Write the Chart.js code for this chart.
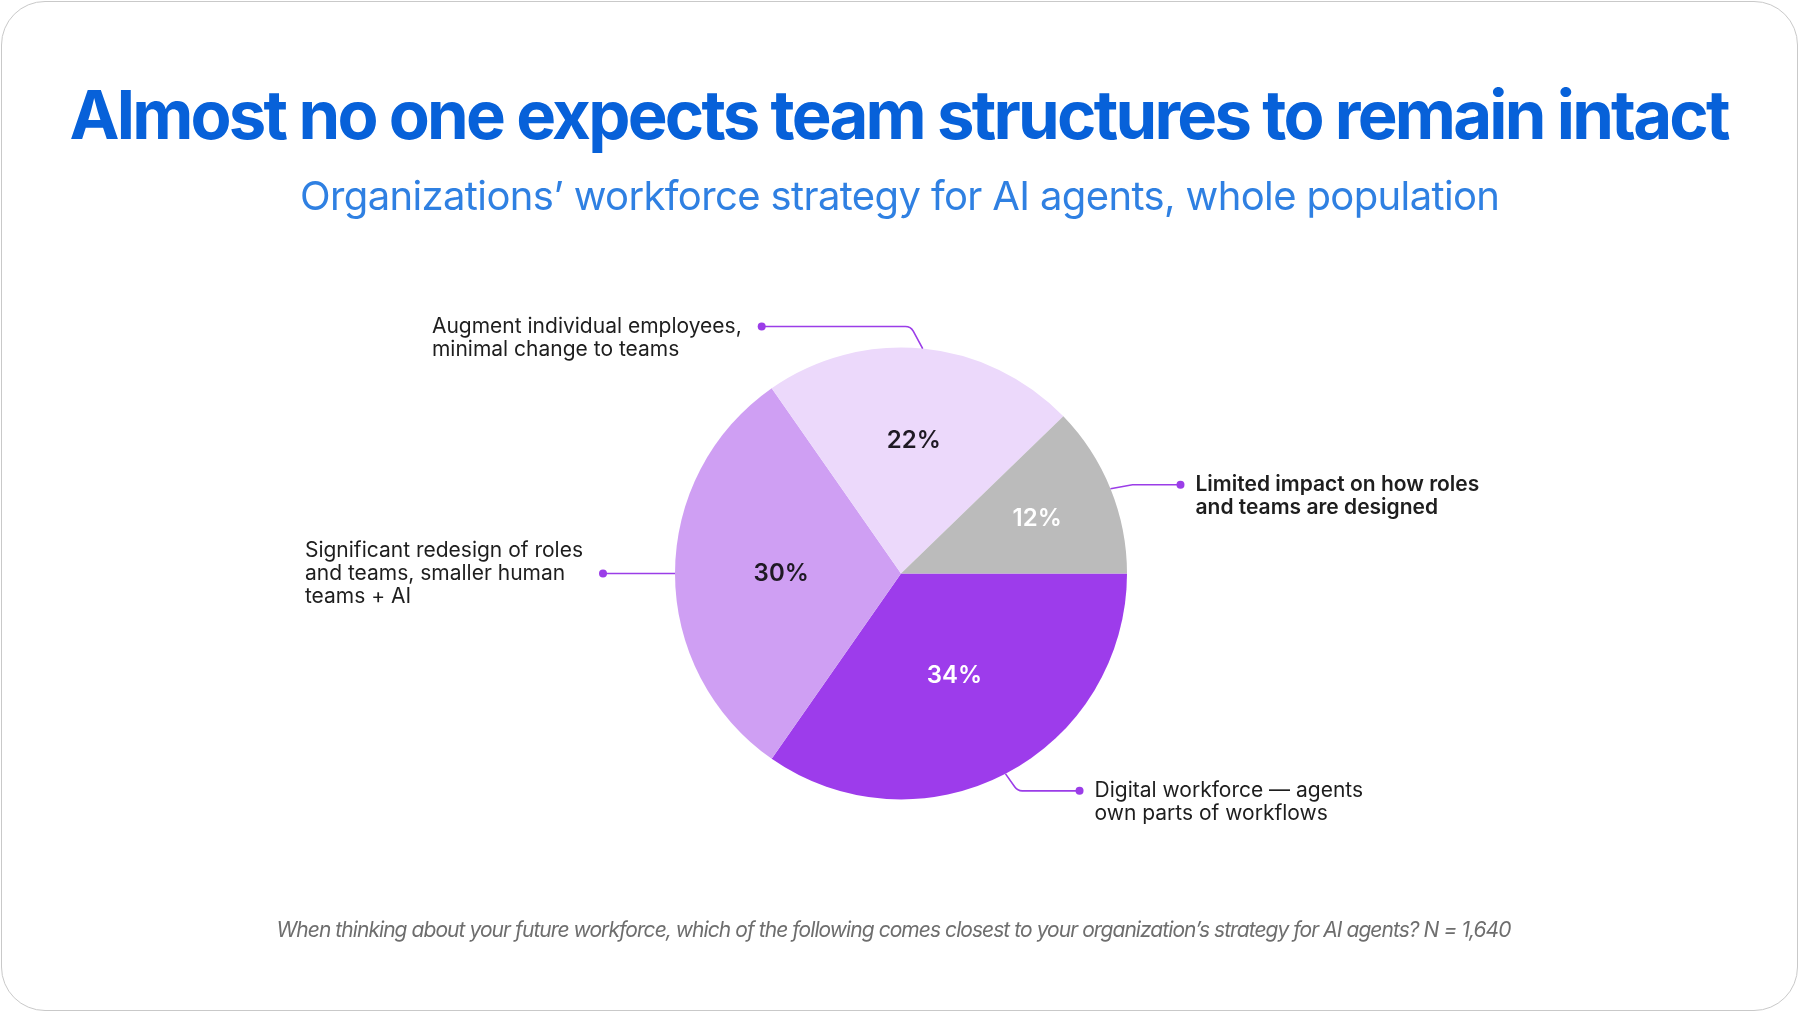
<!DOCTYPE html>
<html>
<head>
<meta charset="utf-8">
<script src="https://cdn.jsdelivr.net/npm/chart.js@4.4.1/dist/chart.umd.min.js"></script>
<style>
html, body { margin: 0; padding: 0; background: #fff; }
#frame { position: absolute; left: 1px; top: 1px; width: 1797px; height: 1010px; border: 1.5px solid #c9c9c9; border-radius: 44px; box-sizing: border-box; }
#wrap { position: absolute; left: 0; top: 0; width: 1800px; height: 1013px; }
</style>
</head>
<body>
<div id="frame"></div>
<div id="wrap"><canvas id="strategyChart"></canvas></div>
<script>
// Workforce strategy for AI agents, whole population
const titleText = 'Almost no one expects team structures to remain intact';
const subtitleText = 'Organizations\u2019 workforce strategy for AI agents, whole population';
const footnoteText = 'When thinking about your future workforce, which of the following comes closest to your organization\u2019s strategy for AI agents? N = 1,640';

// slices run clockwise starting at 3 o'clock
const categories = [
    ['Digital workforce \u2014 agents', 'own parts of workflows'],
    ['Significant redesign of roles', 'and teams, smaller human', 'teams + AI'],
    ['Augment individual employees,', 'minimal change to teams'],
    ['Limited impact on how roles', 'and teams are designed']
];
const shares = [34, 30, 22, 12];
const sliceColors = ['#9d3ceb', '#cf9ff3', '#ecd9fb', '#bbbbbb'];
const pctColors = ['#ffffff', '#1f1a24', '#1f1a24', '#ffffff'];

// leader line layout per slice (offsets from the slice's outer edge)
const callouts = [
    { side: 'right', elbow: [12, 17], run: 62, anchorLine: 0, bold: false, round: 9, pctR: 0.51 },
    { side: 'left', elbow: [0, 0], run: 72, anchorLine: 1, bold: false, round: 0, pctR: 0.53 },
    { side: 'left', elbow: [-12, -22], run: 149, anchorLine: 0, bold: false, round: 9, pctR: 0.59 },
    { side: 'right', elbow: [22, -4], run: 48, anchorLine: 0, bold: true, round: 0, pctR: 0.65 }
];

const LINE_COLOR = '#9b3de8';
const TEXT_COLOR = '#1e1e1e';

function drawFitted(ctx, text, font, color, cx, baseline, width) {
    ctx.save();
    ctx.font = font;
    ctx.fillStyle = color;
    ctx.textAlign = 'left';
    ctx.textBaseline = 'alphabetic';
    const w = ctx.measureText(text).width;
    const x = cx - width / 2;
    if ('letterSpacing' in ctx) {
        ctx.letterSpacing = ((width - w) / (text.length - 1)) + 'px';
        ctx.fillText(text, x, baseline);
    } else {
        ctx.translate(x, baseline);
        ctx.scale(width / w, 1);
        ctx.fillText(text, 0, 0);
    }
    ctx.restore();
}

const headerFooter = {
    id: 'headerFooter',
    afterDraw(chart) {
        const ctx = chart.ctx;
        drawFitted(ctx, titleText, 'bold 67px Inter', '#0761d9', 900, 139, 1661);
        drawFitted(ctx, subtitleText, '40px Inter', '#2f80e2', 900, 210, 1200);
        drawFitted(ctx, footnoteText, 'italic 21px Inter', '#6e6e6e', 894, 937, 1235);
    }
};

const sliceLabels = {
    id: 'sliceLabels',
    afterDatasetsDraw(chart) {
        const ctx = chart.ctx;
        const arcs = chart.getDatasetMeta(0).data;
        ctx.save();
        arcs.forEach((arc, i) => {
            const p = arc.getProps(['x', 'y', 'startAngle', 'endAngle', 'outerRadius'], true);
            const mid = (p.startAngle + p.endAngle) / 2;
            const c = callouts[i];

            // percentage inside the slice
            const r = p.outerRadius * c.pctR;
            ctx.font = '600 24px Inter';
            ctx.fillStyle = pctColors[i];
            ctx.textAlign = 'center';
            ctx.textBaseline = 'middle';
            ctx.fillText(shares[i] + '%', p.x + Math.cos(mid) * r, p.y + Math.sin(mid) * r);

            // leader line to the category label
            const sx = p.x + Math.cos(mid) * p.outerRadius;
            const sy = p.y + Math.sin(mid) * p.outerRadius;
            const ex = sx + c.elbow[0];
            const ey = sy + c.elbow[1];
            const dx = c.side === 'right' ? ex + c.run : ex - c.run;
            ctx.strokeStyle = LINE_COLOR;
            ctx.lineWidth = 1.6;
            ctx.beginPath();
            ctx.moveTo(sx, sy);
            if (c.round > 0) ctx.arcTo(ex, ey, dx, ey, c.round);
            else ctx.lineTo(ex, ey);
            ctx.lineTo(dx, ey);
            ctx.stroke();
            ctx.fillStyle = LINE_COLOR;
            ctx.beginPath();
            ctx.arc(dx, ey, 4, 0, Math.PI * 2);
            ctx.fill();

            // label text
            const lines = categories[i];
            ctx.font = (c.bold ? '600 ' : '400 ') + '21px Inter';
            ctx.fillStyle = TEXT_COLOR;
            ctx.textAlign = 'left';
            let tx;
            if (c.side === 'right') {
                tx = dx + 15;
            } else {
                const maxW = Math.max(...lines.map(t => ctx.measureText(t).width));
                tx = dx - 20 - maxW;
            }
            lines.forEach((t, k) => {
                ctx.fillText(t, tx, ey + (k - c.anchorLine) * 23);
            });
        });
        ctx.restore();
    }
};

const ctx = document.getElementById('strategyChart').getContext('2d');
new Chart(ctx, {
    type: 'pie',
    data: {
        labels: categories.map(l => l.join(' ')),
        datasets: [{
            data: shares,
            backgroundColor: sliceColors,
            borderWidth: 0,
            hoverOffset: 0
        }]
    },
    options: {
        responsive: true,
        maintainAspectRatio: false,
        animation: false,
        events: [],
        rotation: 90,
        layout: {
            padding: { left: 675, right: 673, top: 347, bottom: 213 }
        },
        plugins: {
            legend: { display: false },
            tooltip: { enabled: false }
        }
    },
    plugins: [sliceLabels, headerFooter]
});
</script>
</body>
</html>
